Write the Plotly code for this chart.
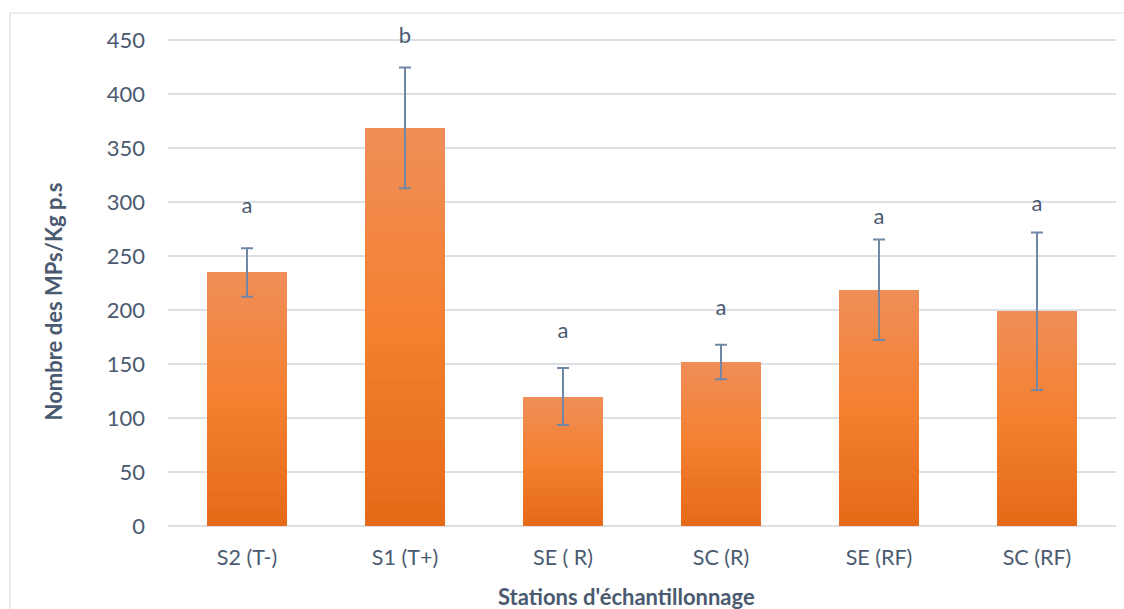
import plotly.graph_objects as go

# Stations and microplastic counts (mean ± error)
stations = ["S2 (T-)", "S1 (T+)", "SE ( R)", "SC (R)", "SE (RF)", "SC (RF)"]
mean_counts = [235, 369, 120, 152, 219, 199]
error_counts = [22.5, 56, 26.5, 16, 46.5, 73]
group_letters = ["a", "b", "a", "a", "a", "a"]
letter_heights = [295, 453, 179, 201, 285, 297]
y_ticks = [0, 50, 100, 150, 200, 250, 300, 350, 400, 450]

TEXT = "#4A5A70"
GRID = "#DCE0E6"
FONT = "Lato"

# vertical gradient of the bar fill: bottom -> middle -> top
stops = [(0.0, (228, 106, 24)), (0.5, (244, 128, 48)), (1.0, (240, 142, 88))]


def grad_color(t):
    for (t0, c0), (t1, c1) in zip(stops[:-1], stops[1:]):
        if t0 <= t <= t1:
            f = (t - t0) / (t1 - t0)
            r, g, b = (round(a + (bb - a) * f) for a, bb in zip(c0, c1))
            return f"rgb({r},{g},{b})"
    return "rgb(%d,%d,%d)" % stops[-1][1]


fig = go.Figure()

# each bar is stacked from thin slices of its own value to render the gradient
n_slices = 30
for k in range(n_slices):
    fig.add_trace(go.Bar(
        x=stations,
        y=[v / n_slices for v in mean_counts],
        marker=dict(color=grad_color((k + 0.5) / n_slices), line=dict(width=0)),
        showlegend=False,
        hoverinfo="skip",
    ))

# error bars
fig.add_trace(go.Scatter(
    x=stations,
    y=mean_counts,
    mode="markers",
    marker=dict(size=1, color="rgba(0,0,0,0)"),
    error_y=dict(type="data", array=error_counts, visible=True,
                 color="#7087A6", thickness=2, width=6),
    showlegend=False,
    hovertemplate="%{x}: %{y}<extra></extra>",
))

# significance letters
fig.add_trace(go.Scatter(
    x=stations,
    y=letter_heights,
    mode="text",
    text=group_letters,
    textposition="middle center",
    textfont=dict(family=FONT, size=22, color=TEXT),
    cliponaxis=False,
    showlegend=False,
    hoverinfo="skip",
))

# axis titles
fig.add_annotation(xref="paper", yref="paper", x=0.484, y=-0.144,
                   text="<b>Stations d'échantillonnage</b>", showarrow=False,
                   font=dict(family=FONT, size=22, color=TEXT),
                   xanchor="center", yanchor="middle")
fig.add_annotation(xref="paper", yref="paper", x=-0.121, y=0.457,
                   text="<b>Nombre des MPs/Kg p.s</b>", showarrow=False,
                   textangle=-90,
                   font=dict(family=FONT, size=22, color=TEXT),
                   xanchor="center", yanchor="middle")

# chart frame
fig.add_shape(type="rect", xref="paper", yref="paper",
              x0=-0.1667, y0=-0.3, x1=1.2, y1=1.0425,
              line=dict(color="#D9D9D9", width=1), layer="below")

fig.update_layout(
    width=1124, height=609,
    margin=dict(l=168, r=8, t=33.5, b=83),
    paper_bgcolor="white", plot_bgcolor="white",
    barmode="stack", bargap=0.494,
    font=dict(family=FONT, color=TEXT),
)
fig.update_xaxes(
    showgrid=False, showline=False, ticks="",
    ticklabelstandoff=16,
    tickfont=dict(family=FONT, size=21.5, color=TEXT),
)
fig.update_yaxes(
    range=[0, 456], tickvals=y_ticks,
    showgrid=True, gridcolor=GRID, gridwidth=1.5,
    zeroline=True, zerolinecolor=GRID, zerolinewidth=1.5,
    showline=False, ticks="", ticklabelstandoff=22,
    tickfont=dict(family=FONT, size=22, color=TEXT),
)

fig.write_html("out.html")
